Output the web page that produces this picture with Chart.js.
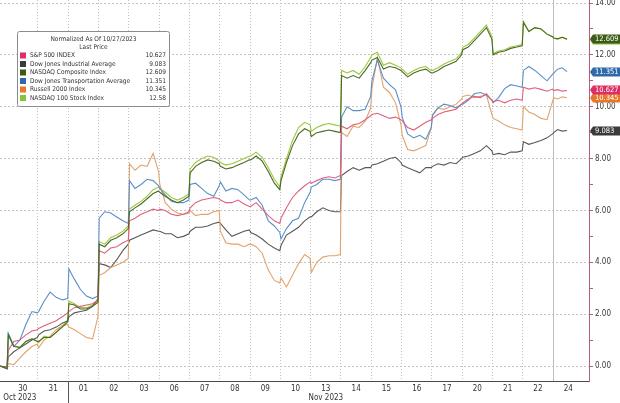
<!DOCTYPE html>
<html>
<head>
<meta charset="utf-8">
<script src="https://cdn.jsdelivr.net/npm/chart.js@4.4.0/dist/chart.umd.min.js"></script>
<style>
  html, body { margin: 0; padding: 0; background: #fff; }
</style>
</head>
<body>
<canvas id="chart" width="620" height="403"></canvas>
<script>
var FONT = '"DejaVu Sans Condensed", "DejaVu Sans", sans-serif'

// trading days on the axis, and where the samples sit inside each day
var dayLabels = ['30','31','01','02','03','06','07','08','09','10','13','14','15','16','17','20','21','22','24']
var monthLabels = ['Oct 2023', 'Nov 2023']
var monthPos = [0.4, 10.5]
var startTimes = [-0.25, -0.02]
var dayFrac = [0.02, 0.2, 0.4, 0.6, 0.8, 0.98]
var lastDayFrac = [0.02, 0.15, 0.3, 0.46]
var yTicks = [0,1,2,3,4,5,6,7,8,9,10,11,12,13,14]

var legendTitle = ['Normalized As Of 10/27/2023', 'Last Price']
var names = ['S&P 500 INDEX', 'Dow Jones Industrial Average', 'NASDAQ Composite Index',
             'Dow Jones Transportation Average', 'Russell 2000 Index', 'NASDAQ 100 Stock Index']
var lastPrice = [10.627, 9.083, 12.609, 11.351, 10.345, 12.58]
var tagColors = ['#dc2f63', '#3b3b3b', '#3d5a16', '#2f6aa8', '#e8772c', '#86c23a']
var lineColors = ['#e0607f', '#585858', '#4a6a22', '#5b8fc7', '#e2a26c', '#9cc63e']

var spx = [0, -0.1,
  0.6, 0.95, 1.0, 1.2, 1.35, 1.4,
  1.45, 1.55, 1.65, 1.75, 1.9, 2.05,
  2.1, 2.25, 2.3, 2.35, 2.4, 2.55,
  4.45, 4.35, 4.55, 4.6, 4.75, 4.85,
  5.6, 5.7, 5.85, 5.95, 6.05, 6.0,
  6.05, 6.0, 5.85, 5.8, 5.85, 5.95,
  6.1, 6.3, 6.4, 6.45, 6.5, 6.45,
  6.4, 6.3, 6.3, 6.4, 6.25, 6.15,
  6.15, 6.3, 6.05, 5.8, 5.6, 5.5,
  5.7, 6.1, 6.5, 6.75, 6.95, 7.1,
  7.05, 7.15, 7.25, 7.3, 7.25, 7.35,
  9.25, 9.15, 9.3, 9.35, 9.5, 9.65,
  9.7, 9.75, 9.65, 9.55, 9.6, 9.5,
  9.45, 9.2, 9.1, 9.25, 9.4, 9.5,
  9.55, 9.7, 9.8, 9.85, 9.9, 10.1,
  10.15, 10.3, 10.4, 10.35, 10.5, 10.25,
  10.2, 10.25, 10.15, 10.25, 10.3, 10.25,
  10.75, 10.68, 10.73, 10.67, 10.6, 10.68,
  10.62, 10.66, 10.6, 10.627]

var dji = [0, -0.05,
  0.35, 0.55, 0.7, 0.85, 1.0, 1.1,
  1.2, 1.35, 1.4, 1.5, 1.65, 1.75,
  1.9, 2.05, 2.1, 2.15, 2.3, 2.6,
  3.95, 3.9, 3.8, 4.1, 4.45, 4.7,
  4.85, 4.95, 5.05, 5.15, 5.25, 5.2,
  5.2, 5.1, 5.1, 4.95, 5.0, 5.1,
  5.2, 5.35, 5.35, 5.4, 5.5, 5.55,
  5.5, 5.25, 5.0, 5.1, 5.2, 5.25,
  5.15, 5.05, 4.9, 4.7, 4.55, 4.45,
  4.65, 5.05, 5.2, 5.35, 5.6, 5.75,
  5.75, 5.95, 6.1, 6.0, 5.95, 5.95,
  7.35, 7.5, 7.65, 7.55, 7.65, 7.65,
  7.75, 7.8, 7.9, 8.0, 8.05, 7.85,
  7.75, 7.65, 7.55, 7.45, 7.65, 7.65,
  7.7, 7.8, 7.75, 7.85, 7.8, 8.0,
  8.05, 8.1, 8.2, 8.3, 8.5, 8.3,
  8.15, 8.2, 8.15, 8.25, 8.25, 8.3,
  8.65, 8.55, 8.62, 8.7, 8.8, 8.95,
  9.0, 9.12, 9.06, 9.083]

var ccmp = [0, -0.1,
  1.2, 0.75, 0.72, 0.95, 1.05, 0.95,
  0.95, 1.1, 1.1, 1.3, 1.5, 1.7,
  2.4, 2.35, 2.2, 2.2, 2.3, 2.45,
  4.7, 4.6, 4.85, 4.95, 5.1, 5.3,
  5.95, 6.1, 6.25, 6.45, 6.65, 6.75,
  6.7, 6.55, 6.4, 6.3, 6.4, 6.55,
  7.45, 7.7, 7.85, 7.95, 7.9, 7.8,
  7.7, 7.6, 7.65, 7.75, 7.85, 7.95,
  7.95, 8.1, 7.9, 7.5, 7.05, 6.8,
  7.15, 7.85, 8.5, 8.95, 9.15, 9.05,
  8.85, 9.0, 9.05, 9.1, 9.05, 9.0,
  11.2, 11.1, 11.2, 11.1, 11.4, 11.7,
  11.8, 11.9, 11.45, 11.55, 11.5, 11.4,
  11.35, 11.15, 11.3, 11.4, 11.45, 11.3,
  11.3, 11.4, 11.55, 11.65, 11.75, 12.0,
  12.2, 12.3, 12.55, 12.8, 13.05, 12.6,
  12.0, 12.1, 12.15, 12.25, 12.3, 12.35,
  13.25, 12.9, 13.05, 13.0, 12.8, 12.7,
  12.65, 12.62, 12.68, 12.609]

var djt = [0, -0.1,
  1.25, 0.75, 1.0, 1.6, 2.1, 2.05,
  2.1, 2.5, 2.85, 2.65, 2.55, 2.6,
  3.75, 3.35, 2.95, 2.7, 2.6, 2.7,
  5.7, 5.95, 5.9, 5.75, 5.6, 5.5,
  7.15, 6.85, 7.0, 7.2, 7.15, 6.95,
  6.85, 6.6, 6.35, 6.3, 6.3, 6.4,
  7.0, 7.05, 6.85, 6.65, 6.55, 6.95,
  7.1, 6.75, 6.85, 6.8, 6.6, 6.4,
  6.4, 6.5, 6.2, 5.6, 5.4, 5.15,
  4.9, 5.3, 5.6, 5.7, 6.3, 6.7,
  6.9, 7.0, 7.2, 7.2, 7.15, 7.2,
  9.6, 10.0, 9.85, 9.85, 9.9, 10.4,
  11.0, 11.8, 11.1, 10.85, 10.65, 10.0,
  9.6, 8.95, 8.8, 8.9, 8.75, 9.2,
  9.65, 9.95, 10.1, 10.05, 9.95, 10.1,
  10.1, 10.25, 10.5, 10.55, 10.45, 10.25,
  10.15, 10.35, 10.7, 10.85, 10.8, 10.75,
  11.4, 11.55, 11.4, 11.2, 11.0, 11.25,
  11.3, 11.45, 11.5, 11.351]

var rut = [0, -0.1,
  0.1, 0.05, 0.3, 0.55, 0.75, 0.85,
  0.7, 1.0, 1.15, 1.4, 1.55, 1.6,
  1.5, 1.4, 1.25, 1.1, 1.05, 1.9,
  3.5, 3.6, 3.8, 3.9, 4.0, 4.15,
  7.8, 7.55, 7.75, 7.7, 8.2, 7.5,
  7.0, 6.3, 6.05, 5.9, 5.85, 5.9,
  6.0, 5.8, 5.85, 5.85, 5.95, 6.0,
  5.2, 4.75, 4.7, 4.7, 4.6, 4.7,
  4.7, 4.6, 4.35, 3.7, 3.3, 3.2,
  3.4, 3.05, 3.5, 3.95, 4.3, 4.15,
  3.6, 4.0, 4.2, 4.25, 4.25, 4.3,
  9.0, 8.85, 9.25, 9.2, 9.45, 9.95,
  10.7, 11.9, 10.75, 10.55, 10.15, 9.3,
  8.9, 8.35, 8.3, 8.4, 8.5, 9.2,
  9.7, 9.95, 9.9, 10.0, 10.1, 10.3,
  10.4, 10.45, 10.35, 10.4, 10.45, 9.7,
  9.55, 9.45, 9.3, 9.2, 9.15, 9.1,
  10.0, 9.8, 9.7, 9.55, 9.5, 10.2,
  10.35, 10.3, 10.38, 10.345]

var ndx = [0, -0.1,
  1.25, 0.8, 0.7, 0.95, 1.05, 0.95,
  0.9, 1.15, 1.1, 1.3, 1.55, 1.75,
  2.5, 2.4, 2.25, 2.25, 2.35, 2.5,
  4.8, 4.7, 4.95, 5.05, 5.2, 5.4,
  6.05, 6.2, 6.35, 6.55, 6.8, 6.9,
  6.85, 6.7, 6.5, 6.4, 6.5, 6.65,
  7.6, 7.85, 8.0, 8.1, 8.05, 7.9,
  7.85, 7.75, 7.8, 7.9, 8.0, 8.1,
  8.1, 8.25, 8.05, 7.65, 7.2, 6.9,
  7.3, 8.0, 8.7, 9.2, 9.4, 9.3,
  9.05, 9.2, 9.3, 9.35, 9.3, 9.25,
  11.4, 11.3, 11.4, 11.25, 11.55, 11.9,
  12.0, 12.1, 11.6, 11.7, 11.6, 11.5,
  11.45, 11.25, 11.4, 11.5, 11.55, 11.4,
  11.4, 11.5, 11.65, 11.75, 11.85, 12.1,
  12.3, 12.4, 12.65, 12.9, 13.15, 12.7,
  12.05, 12.15, 12.2, 12.3, 12.35, 12.4,
  13.3, 12.9, 13.05, 13.0, 12.8, 12.7,
  12.65, 12.6, 12.68, 12.58]

var series = [spx, dji, ccmp, djt, rut, ndx]
var drawOrder = [2, 5, 1, 3, 4, 6]   // chart.js "order": lower ends up on top
var tagOrder = [5, 4, 3, 2, 1, 0]    // later tags cover earlier ones

// time of every sample, in trading days from the 30 Oct open
var times = startTimes.slice()
for (var d = 0; d < dayLabels.length; d++) {
  var fr = d == dayLabels.length - 1 ? lastDayFrac : dayFrac
  fr.forEach(function(f){ times.push(d + f) })
}
var dayBounds = []
for (var b = 1; b < dayLabels.length; b++) dayBounds.push(b)

var X_MIN = -0.254, X_MAX = 19.185

var datasets = series.map(function(s, i){
  return {
    label: names[i],
    data: s.map(function(v, k){ return {x: times[k], y: v} }),
    borderColor: lineColors[i],
    borderWidth: 1.1,
    pointRadius: 0,
    tension: 0,
    order: drawOrder[i],
    xAxisID: 'x',
    yAxisID: 'y'
  }
})

function roundRect(ctx, x, y, w, h, r) {
  ctx.beginPath()
  ctx.moveTo(x + r, y)
  ctx.lineTo(x + w - r, y); ctx.quadraticCurveTo(x + w, y, x + w, y + r)
  ctx.lineTo(x + w, y + h - r); ctx.quadraticCurveTo(x + w, y + h, x + w - r, y + h)
  ctx.lineTo(x + r, y + h); ctx.quadraticCurveTo(x, y + h, x, y + h - r)
  ctx.lineTo(x, y + r); ctx.quadraticCurveTo(x, y, x + r, y)
  ctx.closePath()
}

var overlay = {
  id: 'overlay',
  afterDraw: function(chart) {
    var ctx = chart.ctx, xs = chart.scales.x, ys = chart.scales.y, area = chart.chartArea
    ctx.save()

    // Oct | Nov separator under the axis
    var sx = Math.round(xs.getPixelForValue(2)) + 0.5
    ctx.strokeStyle = '#555'
    ctx.lineWidth = 1
    ctx.beginPath(); ctx.moveTo(sx, area.bottom); ctx.lineTo(sx, chart.height); ctx.stroke()

    // last price tags on the right axis
    ctx.font = '7.5px ' + FONT
    ctx.textBaseline = 'middle'
    ctx.textAlign = 'left'
    tagOrder.forEach(function(i){
      var y = Math.round(ys.getPixelForValue(lastPrice[i]))
      var x0 = area.right + 1, x1 = chart.width
      ctx.fillStyle = tagColors[i]
      ctx.beginPath()
      ctx.moveTo(x0, y)
      ctx.lineTo(x0 + 3, y - 4.5)
      ctx.lineTo(x1, y - 4.5)
      ctx.lineTo(x1, y + 4.5)
      ctx.lineTo(x0 + 3, y + 4.5)
      ctx.closePath()
      ctx.fill()
      ctx.fillStyle = '#fff'
      ctx.fillText(String(lastPrice[i]), x0 + 5, y + 0.5)
    })

    // legend box
    var bx = 17.5, by = 31.5, bw = 152, bh = 75
    roundRect(ctx, bx, by, bw, bh, 2)
    ctx.fillStyle = '#fff'
    ctx.fill()
    ctx.strokeStyle = '#8c8c8c'
    ctx.stroke()
    ctx.fillStyle = '#333'
    ctx.font = '6.5px ' + FONT
    ctx.textAlign = 'center'
    ctx.fillText(legendTitle[0], bx + bw / 2, 39.5)
    ctx.fillText(legendTitle[1], bx + bw / 2, 47.5)
    names.forEach(function(n, i){
      var ry = 55.5 + i * 8.5
      ctx.fillStyle = tagColors[i]
      ctx.fillRect(20, ry - 3, 6, 6)
      ctx.fillStyle = '#333'
      ctx.textAlign = 'left'
      ctx.fillText(n, 30, ry)
      ctx.textAlign = 'right'
      ctx.fillText(String(lastPrice[i]), 166, ry)
    })
    ctx.restore()
  }
}

function noPadX(s) { s.paddingLeft = 0; s.paddingRight = 0 }

new Chart(document.getElementById('chart').getContext('2d'), {
  type: 'line',
  data: { datasets: datasets },
  plugins: [overlay],
  options: {
    responsive: false,
    animation: false,
    devicePixelRatio: 1,
    layout: { padding: 0 },
    plugins: { legend: { display: false }, tooltip: { enabled: false } },
    scales: {
      x: {
        type: 'linear', position: 'bottom', min: X_MIN, max: X_MAX, weight: 0,
        afterBuildTicks: function(s){ s.ticks = dayBounds.map(function(v){ return {value: v} }) },
        afterFit: function(s){ s.height = 0; noPadX(s) },
        ticks: { display: false },
        grid: {
          drawTicks: false,
          color: function(c){ return c.tick && c.tick.value == 18 ? '#bdbdbd' : '#c4c4c4' }
        },
        border: {
          display: true, color: '#4a4a4a', width: 1,
          dash: function(c){ return c.tick && c.tick.value == 18 ? [] : [1, 2] }
        }
      },
      xl: {
        type: 'linear', position: 'bottom', min: X_MIN, max: X_MAX, weight: 1,
        afterBuildTicks: function(s){ s.ticks = dayLabels.map(function(l, i){ return {value: i + 0.5} }) },
        afterFit: function(s){ s.height = 11; noPadX(s) },
        ticks: {
          autoSkip: false, maxRotation: 0, padding: 3, color: '#333',
          font: { family: FONT, size: 8 },
          callback: function(v, i){ return dayLabels[i] }
        },
        grid: { display: false, drawTicks: false },
        border: { display: false }
      },
      xm: {
        type: 'linear', position: 'bottom', min: X_MIN, max: X_MAX, weight: 2,
        afterBuildTicks: function(s){ s.ticks = monthPos.map(function(v){ return {value: v} }) },
        afterFit: function(s){ s.height = 11; noPadX(s) },
        ticks: {
          autoSkip: false, maxRotation: 0, padding: 1, color: '#333',
          font: { family: FONT, size: 8 },
          callback: function(v, i){ return monthLabels[i] }
        },
        grid: { display: false, drawTicks: false },
        border: { display: false }
      },
      y: {
        type: 'linear', position: 'right', min: -0.578, max: 14.116,
        afterBuildTicks: function(s){ s.ticks = yTicks.map(function(v){ return {value: v} }) },
        afterFit: function(s){ s.width = 31; s.paddingTop = 0; s.paddingBottom = 0 },
        ticks: {
          autoSkip: false, padding: 2, color: '#3a3a3a',
          font: { family: FONT, size: 8 },
          callback: function(v){ return v % 2 ? '' : v.toFixed(2) }
        },
        grid: {
          tickLength: 4,
          color: function(c){ return c.tick && c.tick.value % 2 ? 'rgba(0,0,0,0)' : '#c4c4c4' },
          tickColor: '#b4607a'
        },
        border: { color: '#b4607a', width: 1, dash: [2, 2] }
      }
    }
  }
})
</script>
</body>
</html>
